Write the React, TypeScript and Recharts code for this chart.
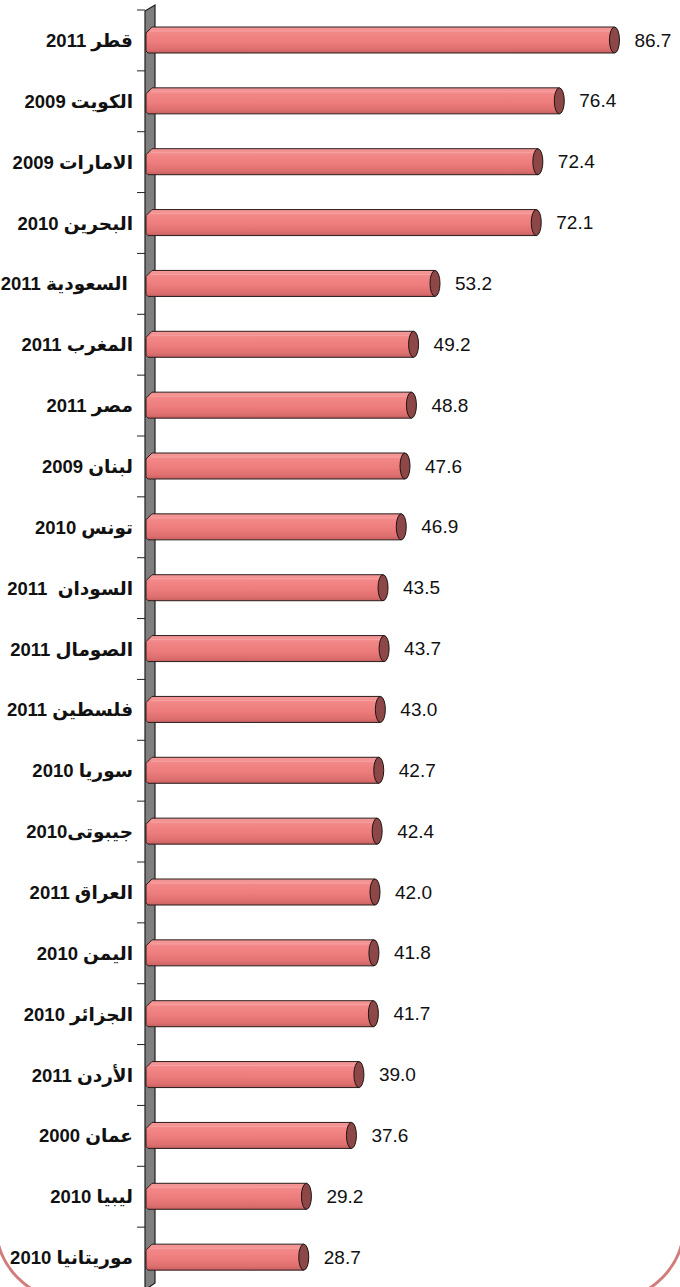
import React from 'react';
import { BarChart, Bar, XAxis, YAxis, LabelList } from 'recharts';

const categories = [
  'قطر 2011', 'الكويت 2009', 'الامارات 2009', 'البحرين 2010', 'السعودية 2011 ', 'المغرب 2011',
  'مصر 2011', 'لبنان 2009', 'تونس 2010', 'السودان  2011', 'الصومال 2011', 'فلسطين 2011',
  'سوريا 2010', 'جيبوتى2010', 'العراق 2011', 'اليمن 2010', 'الجزائر 2010', 'الأردن 2011',
  'عمان 2000', 'ليبيا 2010', 'موريتانيا 2010',
];
const values = [
  86.7, 76.4, 72.4, 72.1, 53.2, 49.2, 48.8, 47.6, 46.9, 43.5, 43.7, 43.0,
  42.7, 42.4, 42.0, 41.8, 41.7, 39.0, 37.6, 29.2, 28.7,
];

const data = categories.map((name, i) => ({ name, value: values[i] }));

const W = 680;
const H = 1288;
const TOP = 10;
const AXIS_W = 150;
const BAND = (H - TOP) / categories.length;
const FONT = '"Liberation Sans", Arial, "DejaVu Sans", sans-serif';

const CylinderBar = (props: any) => {
  const { x, y, width, height } = props;
  if (width == null || width <= 0) return null;
  const x0 = x - 4;
  const xe = x + width;
  const d = `M ${x0} ${y + 6} L ${x0 + 6} ${y} L ${xe} ${y} L ${xe} ${y + height} L ${x0 + 2} ${y + height} L ${x0} ${y + height - 2} Z`;
  return (
    <g>
      <path d={d} fill="url(#barGrad)" stroke="#2a1c1c" strokeWidth={1} />
      <line x1={x0 + 5} y1={y + 4} x2={xe} y2={y + 4} stroke="#f9a9a9" strokeWidth={1} opacity={0.8} />
      <ellipse cx={xe} cy={y + height / 2} rx={5} ry={height / 2} fill="#8d4747" stroke="#1e1414" strokeWidth={1} />
    </g>
  );
};

const CategoryTick = (props: any) => {
  const { y, payload } = props;
  return (
    <g>
      <line x1={137} y1={y - BAND / 2} x2={145} y2={y - BAND / 2} stroke="#222" strokeWidth={1} />
      <text
        x={133}
        y={y}
        textAnchor="end"
        dominantBaseline="central"
        fontFamily={FONT}
        fontWeight="bold"
        fontSize={18.5}
        fill="#111"
        style={{ whiteSpace: 'pre' }}
      >
        {payload.value}
      </text>
    </g>
  );
};

const ValueLabel = (props: any) => {
  const { x, y, width, height, value } = props;
  return (
    <text
      x={x + width + 20}
      y={y + height / 2}
      dominantBaseline="central"
      fontFamily={FONT}
      fontSize={19}
      fill="#111"
    >
      {Number(value).toFixed(1)}
    </text>
  );
};

export default function App() {
  return (
    <div style={{ position: 'absolute', left: 0, top: 0, width: W, height: 1287, overflow: 'hidden', background: '#fff' }}>
      <svg width={W} height={1287} style={{ position: 'absolute', left: 0, top: 0 }}>
        <rect x={-4} y={-300} width={688} height={1600} rx={75} ry={75} fill="none" stroke="#d27c7c" strokeWidth={3} />
        <path d="M 145 11 L 155 5 L 155 1283 L 145 1290 Z" fill="#7f7f7f" stroke="#1e1e1e" strokeWidth={1.2} />
      </svg>
      <div style={{ position: 'absolute', left: 0, top: 0 }}>
        <BarChart width={W} height={H} data={data} layout="vertical" margin={{ top: TOP, right: 5, bottom: 0, left: 0 }}>
          <defs>
            <linearGradient id="barGrad" x1="0" y1="0" x2="0" y2="1">
              <stop offset="0%" stopColor="#f59a9a" />
              <stop offset="25%" stopColor="#f28686" />
              <stop offset="55%" stopColor="#ee7d7d" />
              <stop offset="85%" stopColor="#de6f6f" />
              <stop offset="100%" stopColor="#c66060" />
            </linearGradient>
          </defs>
          <XAxis type="number" hide domain={[0, 98]} />
          <YAxis
            type="category"
            dataKey="name"
            width={AXIS_W}
            axisLine={false}
            tickLine={false}
            tick={<CategoryTick />}
            interval={0}
          />
          <Bar dataKey="value" barSize={26} shape={<CylinderBar />} isAnimationActive={false}>
            <LabelList dataKey="value" content={<ValueLabel />} />
          </Bar>
        </BarChart>
      </div>
    </div>
  );
}
